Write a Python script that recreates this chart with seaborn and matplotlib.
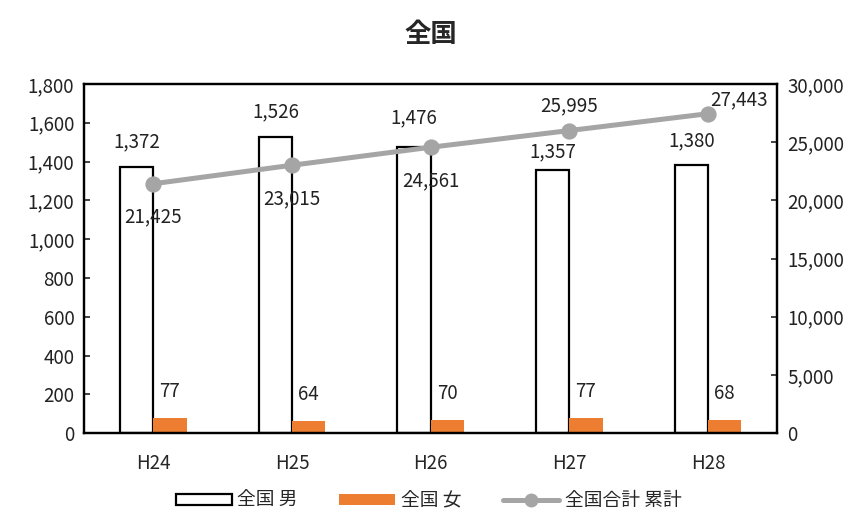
import numpy as np
import pandas as pd
import matplotlib
matplotlib.use("Agg")
import matplotlib.pyplot as plt
import seaborn as sns
from matplotlib.ticker import FuncFormatter, MultipleLocator
from matplotlib.patches import Patch
from matplotlib.lines import Line2D

# data
years = ["H24", "H25", "H26", "H27", "H28"]
male = [1372, 1526, 1476, 1357, 1380]
female = [77, 64, 70, 77, 68]
total_cum = [21425, 23015, 24561, 25995, 27443]
series_names = ["全国 男", "全国 女", "全国合計 累計"]

sns.set_style("white")
plt.rcParams['font.family'] = ['Noto Sans CJK JP', 'DejaVu Sans']

df = pd.DataFrame({
    "year": years * 2,
    "series": [series_names[0]] * 5 + [series_names[1]] * 5,
    "value": male + female,
})

fig = plt.figure(figsize=(8.57, 5.15), dpi=100)
ax = fig.add_axes([0.098, 0.159, 0.809, 0.678])

orange = "#ED7D31"
gray = "#A5A5A5"
txt = "#222222"
fs = 13.5

sns.barplot(data=df, x="year", y="value", hue="series", order=years,
            palette=["white", orange], width=0.48, gap=0, ax=ax,
            legend=False, saturation=1)

# male bars white with black edge, female orange without edge
for bar in ax.containers[0]:
    bar.set_edgecolor("black")
    bar.set_linewidth(1.6)
for bar in ax.containers[1]:
    bar.set_edgecolor("none")

ax.set_ylim(0, 1800)
ax.yaxis.set_major_locator(MultipleLocator(200))
ax.yaxis.set_major_formatter(FuncFormatter(lambda v, p: f"{int(v):,}"))
ax.set_xlabel("")
ax.set_ylabel("")

# value labels on the bars
male_off = [18, 18, 21, 13, 18]
for i, (m, f) in enumerate(zip(male, female)):
    ax.annotate(f"{m:,}", xy=(i - 0.12, m), xytext=(0, male_off[i]),
                textcoords="offset points", ha="center", va="center",
                fontsize=fs, color=txt)
    ax.annotate(f"{f}", xy=(i + 0.12, f), xytext=(0, 19),
                textcoords="offset points", ha="center", va="center",
                fontsize=fs, color=txt)

ax2 = ax.twinx()
sns.pointplot(x=years, y=total_cum, color=gray, markers="o",
              linewidth=3.6, markersize=9, ax=ax2)
ax2.set_ylim(0, 30000)
ax2.yaxis.set_major_locator(MultipleLocator(5000))
ax2.yaxis.set_major_formatter(FuncFormatter(lambda v, p: f"{int(v):,}"))
ax2.set_ylabel("")

line_off = [(0, -24), (0, -24), (0, -24), (0, 18), (22, 10)]
for i, (v, off) in enumerate(zip(total_cum, line_off)):
    ax2.annotate(f"{v:,}", xy=(i, v), xytext=off, textcoords="offset points",
                 ha="center", va="center", fontsize=fs, color=txt)

ax.set_xlim(-0.5, 4.5)
ax2.set_xlim(-0.5, 4.5)

for a in (ax, ax2):
    for s in a.spines.values():
        s.set_color("black")
        s.set_linewidth(1.6)
    a.tick_params(axis="y", direction="in", length=4, width=1.2,
                  labelsize=fs, colors=txt, pad=7)
    a.tick_params(axis="x", length=0, labelsize=fs, pad=14)

ax.set_title("全国", fontsize=19, fontweight="bold", pad=30)

handles = [
    Patch(facecolor="white", edgecolor="black", linewidth=1.6),
    Patch(facecolor=orange, edgecolor="none"),
    Line2D([0], [0], color=gray, lw=3.6, marker="o", markersize=9),
]
fig.legend(handles, series_names, loc="lower center", ncol=3, frameon=False,
           fontsize=fs, bbox_to_anchor=(0.5, -0.025), columnspacing=2.2,
           handlelength=3.0, handletextpad=0.3, handleheight=0.5)

fig.savefig("out.png", dpi=100)
